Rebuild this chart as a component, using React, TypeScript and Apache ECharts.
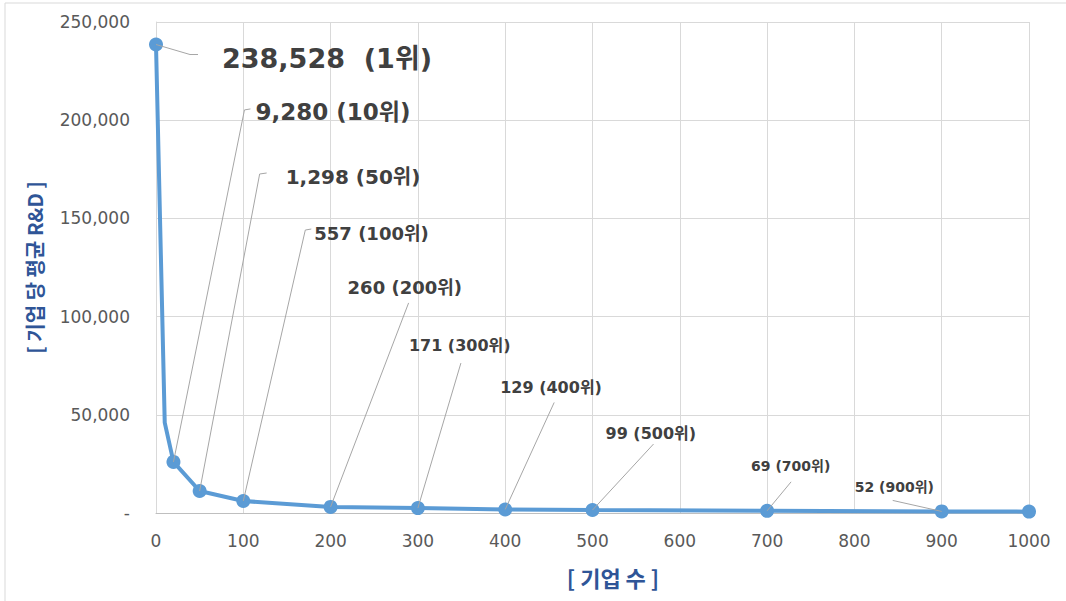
import React, { useEffect, useRef } from "react";
import * as echarts from "echarts";

// ---- data ----
const firmCounts = [0, 10, 20, 50, 100, 200, 300, 400, 500, 700, 900, 1000];
const avgRnd = [238528, 46000, 26000, 11200, 6100, 3100, 2500, 1800, 1500, 1100, 800, 700];
const unmarkedCounts = [10];
const yTicks = [0, 50000, 100000, 150000, 200000, 250000];
const annotatedCounts = [0, 20, 50, 100, 200, 300, 400, 500, 700, 900];
const annotationTexts = [
  "238,528  (1위)",
  "9,280 (10위)",
  "1,298 (50위)",
  "557 (100위)",
  "260 (200위)",
  "171 (300위)",
  "129 (400위)",
  "99 (500위)",
  "69 (700위)",
  "52 (900위)",
];

// ---- layout (pixel offsets from each annotated point) ----
const annotationLayout = [
  { line: [[34, 10], [42, 10]], text: [66, 14], size: 27 },
  { line: [[71, -352], [77, -353]], text: [82, -350], size: 23 },
  { line: [[60, -317], [67, -318]], text: [86, -314], size: 20 },
  { line: [[62, -271], [68, -272]], text: [71, -268], size: 18 },
  { line: [[78, -204]], text: [17, -219], size: 18 },
  { line: [[43, -145]], text: [-9, -163], size: 16 },
  { line: [[49, -107]], text: [-5, -122], size: 16 },
  { line: [[61, -66]], text: [13, -77], size: 16 },
  { line: [[24, -29]], text: [-16, -45], size: 14 },
  { line: [[-49, -11]], text: [-87, -24], size: 14 },
];

const FONT = "'DejaVu Sans', 'Noto Sans CJK KR', sans-serif";
const KFONT = "'Noto Sans CJK KR', 'Noto Sans', sans-serif";
const BLUE_LINE = "#5B9BD5";
const TITLE_BLUE = "#2F5597";

export default function App() {
  const ref = useRef<HTMLDivElement>(null);

  useEffect(() => {
    if (!ref.current) return;
    const chart = echarts.init(ref.current, null, { renderer: "svg" });

    const seriesData = firmCounts.map((x, i) => {
      const item: any = { value: [x, avgRnd[i]] };
      if (unmarkedCounts.includes(x)) item.symbol = "none";
      return item;
    });

    chart.setOption({
      animation: false,
      backgroundColor: "#ffffff",
      grid: { left: 156, right: 37, top: 22, bottom: 88, containLabel: false },
      xAxis: {
        type: "value",
        min: 0,
        max: 1000,
        interval: 100,
        axisLine: { show: true, lineStyle: { color: "#bfbfbf", width: 1 } },
        axisTick: { show: false },
        splitLine: { show: true, lineStyle: { color: "#d9d9d9", width: 1 } },
        axisLabel: {
          color: "#595959",
          fontSize: 17,
          fontFamily: FONT,
          margin: 19,
          formatter: (v: number) => String(v),
        },
      },
      yAxis: {
        type: "value",
        min: 0,
        max: 250000,
        interval: 50000,
        name: "[ 기업 당 평균 R&D ]",
        nameLocation: "middle",
        nameGap: 112,
        nameTextStyle: { color: TITLE_BLUE, fontSize: 20, fontWeight: "bold", fontFamily: KFONT },
        axisLine: { show: true, lineStyle: { color: "#d9d9d9", width: 1 } },
        axisTick: { show: false },
        splitLine: { show: true, lineStyle: { color: "#d9d9d9", width: 1 } },
        axisLabel: {
          color: "#595959",
          fontSize: 17,
          fontFamily: FONT,
          margin: 26,
          formatter: (v: number) =>
            v === 0 ? "-" : yTicks.includes(v) ? v.toLocaleString("en-US") : "",
        },
      },
      series: [
        {
          type: "line",
          data: seriesData,
          symbol: "circle",
          symbolSize: 14,
          showAllSymbol: true,
          lineStyle: { color: BLUE_LINE, width: 4 },
          itemStyle: { color: BLUE_LINE },
          z: 3,
        },
      ],
    });

    const graphics: any[] = [
      {
        type: "rect",
        shape: { x: 5, y: 3, width: 1200, height: 800 },
        style: { fill: "none", stroke: "#d9d9d9", lineWidth: 1 },
        silent: true,
        z: 0,
      },
      {
        type: "text",
        x: 613,
        y: 577,
        style: {
          text: "[ 기업 수 ]",
          fill: TITLE_BLUE,
          font: `bold 22px ${KFONT}`,
          fontSize: 22,
          fontWeight: "bold",
          fontFamily: KFONT,
          align: "center",
          verticalAlign: "middle",
          textAlign: "center",
          textVerticalAlign: "middle",
        },
        z: 10,
      },
    ];

    annotatedCounts.forEach((x, i) => {
      const idx = firmCounts.indexOf(x);
      const p = chart.convertToPixel({ gridIndex: 0 }, [x, avgRnd[idx]]) as number[];
      const lay = annotationLayout[i];
      const pts = [[p[0], p[1]], ...lay.line.map((d) => [p[0] + d[0], p[1] + d[1]])];
      graphics.push({
        type: "polyline",
        shape: { points: pts },
        style: { fill: "none", stroke: "#a6a6a6", lineWidth: 1 },
        z: 100,
        silent: true,
      });
      graphics.push({
        type: "text",
        x: p[0] + lay.text[0],
        y: p[1] + lay.text[1],
        style: {
          text: annotationTexts[i],
          fill: "#404040",
          font: `bold ${lay.size}px ${FONT}`,
          fontSize: lay.size,
          fontWeight: "bold",
          fontFamily: FONT,
          align: "left",
          verticalAlign: "middle",
          textAlign: "left",
          textVerticalAlign: "middle",
        },
        z: 100,
      });
    });

    chart.setOption({ graphic: graphics });

    return () => chart.dispose();
  }, []);

  return (
    <div
      ref={ref}
      style={{ position: "fixed", left: 0, top: 0, width: 1066, height: 601, background: "#fff" }}
    />
  );
}
